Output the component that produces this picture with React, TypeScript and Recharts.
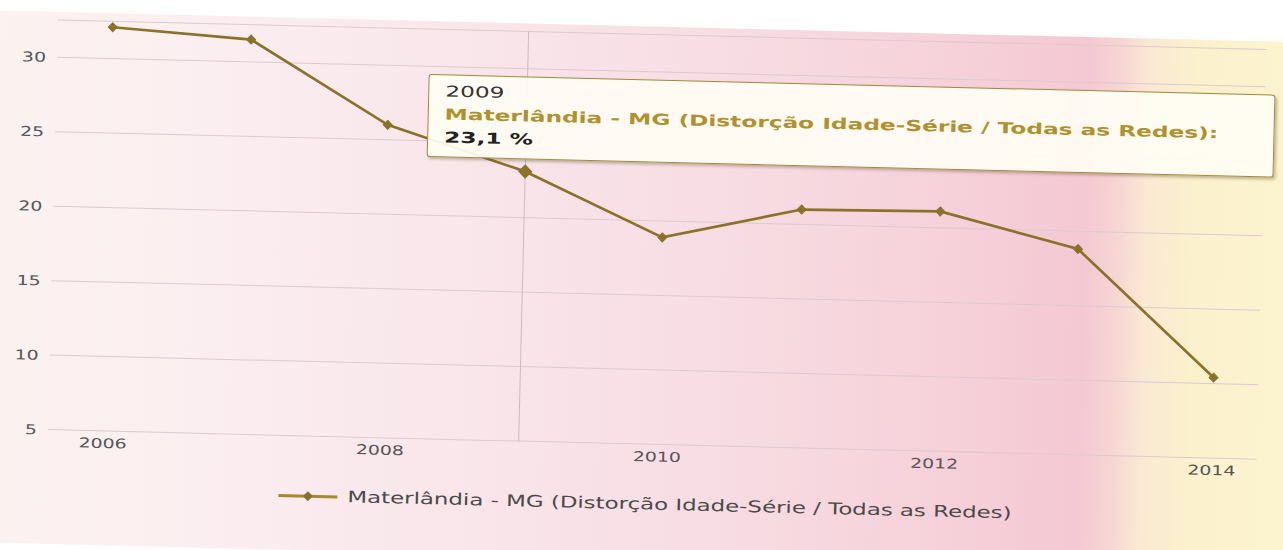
import React from 'react';
import { LineChart, Line, XAxis, YAxis, CartesianGrid, Tooltip, Legend } from 'recharts';

const years = [2006, 2007, 2008, 2009, 2010, 2011, 2012, 2013, 2014];
const values = [32.1, 31.5, 26.0, 23.1, 18.9, 21.0, 21.1, 18.8, 10.4];
const yTicks = [5, 10, 15, 20, 25, 30];
const xTicks = [2006, 2008, 2010, 2012, 2014];
const seriesName = 'Materlândia - MG (Distorção Idade-Série / Todas as Redes)';

const data = years.map((y, i) => ({ year: y, value: values[i] }));

const LINE = '#8a7229';
const LEGEND_LINE = '#a88a2e';
const FONT = '"DejaVu Sans", Verdana, sans-serif';

const YTick = (props: any) => {
  const { x, y, payload } = props;
  return (
    <text
      x={0}
      y={0}
      transform={`translate(${x},${y}) scale(1.4,1)`}
      textAnchor="end"
      dy={5}
      fill="#555555"
      fontSize={13.5}
      fontFamily={FONT}
    >
      {payload.value}
    </text>
  );
};

const XTick = (props: any) => {
  const { x, y, payload } = props;
  return (
    <text
      x={0}
      y={0}
      transform={`translate(${x},${y}) scale(1.4,1)`}
      textAnchor="middle"
      dy={17}
      fill="#555555"
      fontSize={13.5}
      fontFamily={FONT}
    >
      {payload.value}
    </text>
  );
};

const Diamond = (props: any) => {
  const { cx, cy, r } = props;
  if (cx == null || cy == null) return null;
  return (
    <path
      d={`M${cx},${cy - r}L${cx + r},${cy}L${cx},${cy + r}L${cx - r},${cy}Z`}
      fill={LINE}
      stroke={LINE}
      strokeWidth={1}
    />
  );
};

const TooltipBox = (props: any) => {
  const { active, payload, label } = props;
  if (!active || !payload || !payload.length) return null;
  const v = Number(payload[0].value).toFixed(1).replace('.', ',') + ' %';
  const row: React.CSSProperties = {
    transform: 'scaleX(1.55)',
    transformOrigin: 'left center',
    whiteSpace: 'nowrap',
    fontSize: 15,
    lineHeight: '23px',
    height: 23,
  };
  return (
    <div
      style={{
        width: 847,
        height: 83,
        boxSizing: 'border-box',
        background: 'rgba(255,253,244,0.93)',
        border: '1px solid #a08a3c',
        borderRadius: 3,
        boxShadow: '2px 2px 3px rgba(90,70,30,0.35)',
        padding: '5px 16px',
        fontFamily: FONT,
      }}
    >
      <div style={{ ...row, color: '#333' }}>{label}</div>
      <div style={{ ...row, color: '#b0912c', fontWeight: 'bold' }}>{payload[0].name}:</div>
      <div style={{ ...row, color: '#222', fontWeight: 'bold' }}>{v}</div>
    </div>
  );
};

const LegendBox = () => (
  <div style={{ position: 'relative', width: 10, height: 60 }}>
    <svg
      width={60}
      height={16}
      style={{ position: 'absolute', left: 289, top: 12, overflow: 'visible' }}
    >
      <line x1={0} y1={8} x2={59} y2={8} stroke={LEGEND_LINE} strokeWidth={3} />
      <path d="M29.5,3L34.5,8L29.5,13L24.5,8Z" fill={LINE} />
    </svg>
    <span
      style={{
        position: 'absolute',
        left: 358,
        top: 8,
        lineHeight: '24px',
        fontSize: 16,
        fontFamily: FONT,
        color: '#4a4a4a',
        whiteSpace: 'nowrap',
        transform: 'scaleX(1.43)',
        transformOrigin: 'left center',
      }}
    >
      {seriesName}
    </span>
  </div>
);

export default function App() {
  return (
    <div
      style={{
        position: 'absolute',
        left: 0,
        top: 0,
        width: 1283,
        height: 550,
        overflow: 'hidden',
        background: '#ffffff',
      }}
    >
      <div
        style={{
          position: 'absolute',
          left: 0,
          top: 0,
          width: 1283,
          height: 550,
          transform: 'rotate(1.4deg)',
          transformOrigin: '60px 58px',
        }}
      >
        <div
          style={{
            position: 'absolute',
            left: -40,
            top: 12,
            width: 1360,
            height: 532,
            background:
              'linear-gradient(to right, #fcf3f0 0%, #fbeef0 18%, #f9e6ea 38%, #f8dfe5 52%, #f7d6de 66%, #f5cdd7 78%, #f4c8d2 83%, #f7d6d4 85.5%, #fae9d3 87.5%, #fbf1cd 91%, #fcf5cf 100%)',
          }}
        />
        <div style={{ position: 'absolute', left: 0, top: 0 }}>
          <LineChart
            width={1283}
            height={550}
            data={data}
            margin={{ top: 20, right: 17, bottom: 20, left: 0 }}
          >
            <CartesianGrid vertical={false} stroke="#dccad0" strokeWidth={1} />
            <XAxis
              dataKey="year"
              type="number"
              domain={[2006, 2014]}
              ticks={xTicks}
              padding={{ left: 55, right: 45 }}
              height={40}
              axisLine={false}
              tickLine={false}
              tickSize={0}
              tickMargin={0}
              tick={<XTick />}
              interval={0}
            />
            <YAxis
              domain={[5, 32.5]}
              ticks={yTicks}
              width={57}
              axisLine={false}
              tickLine={false}
              tickSize={0}
              tickMargin={11}
              tick={<YTick />}
              interval={0}
              allowDataOverflow
            />
            <Tooltip
              defaultIndex={3}
              position={{ x: 429, y: 65 }}
              content={<TooltipBox />}
              cursor={{ stroke: '#c9bcc0', strokeWidth: 1 }}
              isAnimationActive={false}
              wrapperStyle={{ zIndex: 10, pointerEvents: 'none' }}
            />
            <Legend
              verticalAlign="bottom"
              content={<LegendBox />}
              wrapperStyle={{ left: 0, width: 10 }}
            />
            <Line
              type="linear"
              dataKey="value"
              name={seriesName}
              stroke={LINE}
              strokeWidth={2.7}
              dot={(p: any) => <Diamond key={`d${p.index}`} cx={p.cx} cy={p.cy} r={4.5} />}
              activeDot={(p: any) => <Diamond key={`a${p.index}`} cx={p.cx} cy={p.cy} r={6.5} />}
              isAnimationActive={false}
            />
          </LineChart>
        </div>
      </div>
    </div>
  );
}
